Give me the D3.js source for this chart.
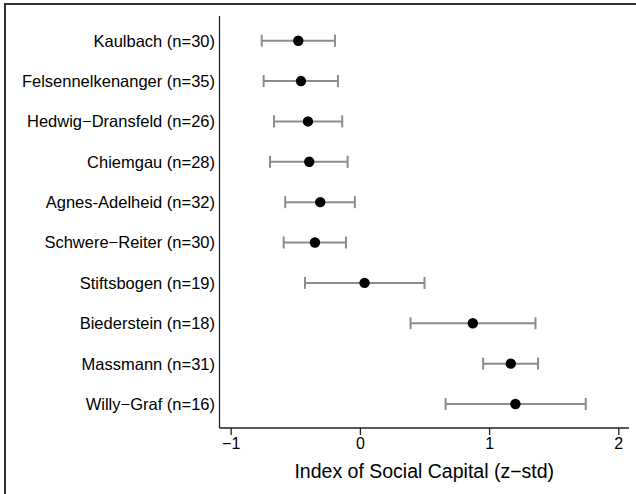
<!DOCTYPE html>
<html>
<head>
<meta charset="utf-8">
<script src="https://cdn.jsdelivr.net/npm/d3@7"></script>
<style>
  body { margin: 0; background: #fff; }
  svg { display: block; font-family: 'Liberation Sans', Arial, sans-serif; }
</style>
</head>
<body>
<script>
// groups, top to bottom
const groups = ['Kaulbach (n=30)', 'Felsennelkenanger (n=35)', 'Hedwig\u2212Dransfeld (n=26)',
  'Chiemgau (n=28)', 'Agnes-Adelheid (n=32)', 'Schwere\u2212Reiter (n=30)',
  'Stiftsbogen (n=19)', 'Biederstein (n=18)', 'Massmann (n=31)', 'Willy\u2212Graf (n=16)']
const means = [-0.477, -0.456, -0.402, -0.392, -0.307, -0.348, 0.036, 0.874, 1.168, 1.204]
const lower = [-0.760, -0.745, -0.665, -0.696, -0.578, -0.590, -0.425, 0.392, 0.954, 0.663]
const upper = [-0.193, -0.170, -0.137, -0.095, -0.039, -0.108, 0.500, 1.359, 1.379, 1.748]
const xTicks = [-1, 0, 1, 2]

const W = 636, H = 494
const svg = d3.select('body').append('svg').attr('width', W).attr('height', H)

// outer frame (right/bottom edges fall outside the picture)
svg.append('rect').attr('x', 5).attr('y', 4).attr('width', W + 10).attr('height', H + 10)
  .attr('fill', 'none').attr('stroke', '#333').attr('stroke-width', 2)

const x = d3.scaleLinear().domain([-1, 2]).range([230.7, 618.3])
const y = d3.scalePoint().domain(groups).range([40.7, 404])

const axisX0 = 219.5, axisX1 = 629, axisY = 428, axisTop = 16

// axes lines
svg.append('line').attr('x1', axisX0).attr('x2', axisX0).attr('y1', axisTop).attr('y2', axisY)
  .attr('stroke', '#222').attr('stroke-width', 1.3)
svg.append('line').attr('x1', axisX0).attr('x2', axisX1).attr('y1', axisY).attr('y2', axisY)
  .attr('stroke', '#222').attr('stroke-width', 1.3)

const xAxis = svg.append('g').attr('transform', `translate(0,${axisY})`)
  .call(d3.axisBottom(x).tickValues(xTicks).tickSize(7).tickSizeOuter(0)
    .tickFormat(d => d < 0 ? '\u2212' + Math.abs(d) : d))
xAxis.select('.domain').remove()
xAxis.selectAll('.tick line').attr('stroke', '#222').attr('stroke-width', 1.3)
xAxis.selectAll('.tick text').attr('fill', '#000').attr('y', 10)
  .style('font-size', '16px').style('font-family', "'Liberation Sans', Arial, sans-serif")

// axis title
svg.append('text').attr('x', (axisX0 + axisX1) / 2).attr('y', 478)
  .attr('text-anchor', 'middle').style('font-size', '19.5px')
  .text('Index of Social Capital (z\u2212std)')

// group labels
svg.append('g').selectAll('text').data(groups).join('text')
  .attr('x', 215).attr('y', d => y(d)).attr('dy', '0.36em')
  .attr('text-anchor', 'end').style('font-size', '16.5px')
  .text(d => d)

// error bars
const rows = groups.map((g, i) => ({ g, m: means[i], lo: lower[i], hi: upper[i] }))
const bars = svg.append('g').attr('stroke', '#8c8c8c').attr('stroke-width', 2)
bars.selectAll('line.ci').data(rows).join('line').attr('class', 'ci')
  .attr('x1', d => x(d.lo)).attr('x2', d => x(d.hi))
  .attr('y1', d => y(d.g)).attr('y2', d => y(d.g))
bars.selectAll('line.lo').data(rows).join('line').attr('class', 'lo')
  .attr('x1', d => x(d.lo)).attr('x2', d => x(d.lo))
  .attr('y1', d => y(d.g) - 6).attr('y2', d => y(d.g) + 6)
bars.selectAll('line.hi').data(rows).join('line').attr('class', 'hi')
  .attr('x1', d => x(d.hi)).attr('x2', d => x(d.hi))
  .attr('y1', d => y(d.g) - 6).attr('y2', d => y(d.g) + 6)

// means
svg.append('g').selectAll('circle').data(rows).join('circle')
  .attr('cx', d => x(d.m)).attr('cy', d => y(d.g)).attr('r', 5.2)
  .attr('fill', '#000')
</script>
</body>
</html>
